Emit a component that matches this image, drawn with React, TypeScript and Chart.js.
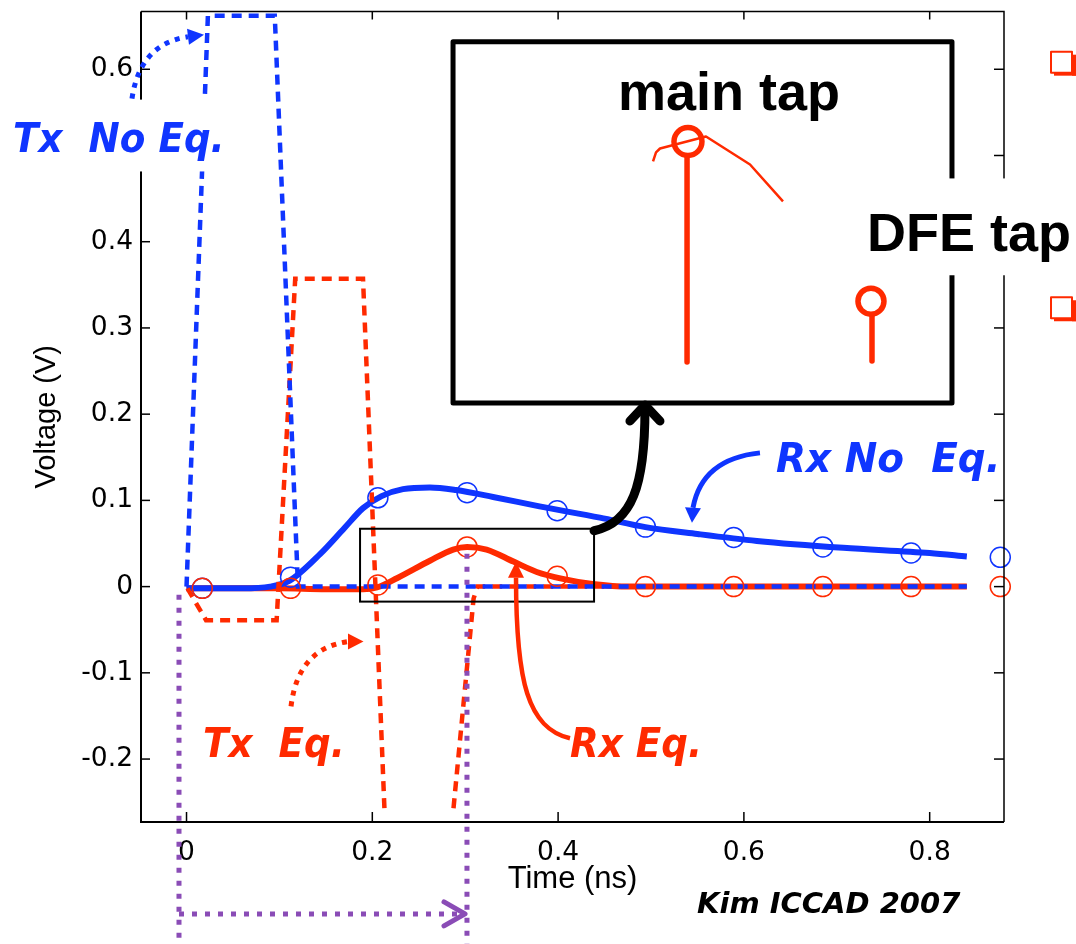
import React, { useEffect, useRef } from 'react';
import { Chart, registerables } from 'chart.js';

Chart.register(...registerables);

// ---------------- axis ----------------
const X_MIN = -0.049;
const X_MAX = 0.88;
const Y_MIN = -0.273;
const Y_MAX = 0.667;
const X_TICKS = [0, 0.2, 0.4, 0.6, 0.8];
const Y_TICKS = [-0.2, -0.1, 0, 0.1, 0.2, 0.3, 0.4, 0.5, 0.6];

// ---------------- series ----------------
// Tx without equalization (blue dashed pulse)
const TX_NOEQ_T = [0, 0.023, 0.095, 0.12, 0.84];
const TX_NOEQ_V = [0, 0.662, 0.662, 0, 0];

// Tx with equalization (red dashed, leaves the visible range between the two edges)
const TX_EQ_T = [0.001, 0.021, 0.097, 0.117, 0.19, 0.2133, 0.25, 0.2874, 0.309, 0.313, 0.84];
const TX_EQ_V = [-0.002, -0.039, -0.039, 0.357, 0.357, -0.264, null, -0.257, -0.014, 0, 0];

// Rx without equalization (blue solid)
const RX_NOEQ_T = [0, 0.06, 0.09, 0.111, 0.144, 0.17, 0.19, 0.21, 0.233, 0.262, 0.29, 0.33, 0.38, 0.445, 0.494, 0.55, 0.614, 0.707, 0.8, 0.84];
const RX_NOEQ_V = [-0.002, -0.002, 0.0, 0.007, 0.038, 0.068, 0.091, 0.105, 0.113, 0.115, 0.112, 0.104, 0.093, 0.08, 0.069, 0.061, 0.053, 0.045, 0.039, 0.035];

// Rx with equalization (red solid)
const RX_EQ_T = [0, 0.1, 0.15, 0.19, 0.205, 0.227, 0.262, 0.287, 0.302, 0.323, 0.352, 0.377, 0.405, 0.437, 0.477, 0.84];
const RX_EQ_V = [-0.002, -0.002, -0.003, -0.003, -0.001, 0.01, 0.03, 0.043, 0.046, 0.043, 0.029, 0.017, 0.009, 0.003, 0.0, 0.0];

// symbol-spaced samples (open circles)
const MARK_T = [0.017, 0.112, 0.206, 0.302, 0.399, 0.494, 0.589, 0.685, 0.78, 0.876];
const MARK_NOEQ = [-0.002, 0.011, 0.103, 0.109, 0.088, 0.069, 0.057, 0.046, 0.039, 0.034];
const MARK_EQ = [-0.002, -0.002, 0.002, 0.046, 0.012, 0, 0, 0, 0, 0];

// ---------------- annotations (data units) ----------------
const LABEL_TX_NOEQ = { text: 'Tx  No Eq.', x: -0.1867, y: 0.5046 };
const LABEL_RX_NOEQ = { text: 'Rx No  Eq.', x: 0.6346, y: 0.1331 };
const LABEL_TX_EQ = { text: 'Tx  Eq.', x: 0.0178, y: -0.1979 };
const LABEL_RX_EQ = { text: 'Rx Eq.', x: 0.4128, y: -0.1979 };
const LABEL_CITE = { text: 'Kim ICCAD 2007', x: 0.5495, y: -0.3785 };
const LABEL_MAIN = { text: 'main tap', x: 0.584, y: 0.5532 };
const LABEL_DFE = { text: 'DFE tap', x: 0.7325, y: 0.3889 };
const BG_TX_NOEQ = [-0.2008, 0.5648, 0.0468, 0.4815];
const BG_DFE = [0.7142, 0.4734, 0.9575, 0.3611];

const ARROW_TX_NOEQ = { s: [-0.0587, 0.566], c: [-0.0501, 0.6296], e: [0.0016, 0.6377], tip: [0.0188, 0.64] };
const ARROW_TX_EQ = { s: [0.1125, -0.1389], c: [0.12, -0.0718], e: [0.1738, -0.0637], tip: [0.1905, -0.0637] };
const ARROW_RX_NOEQ = { s: [0.6173, 0.1551], c: [0.5549, 0.1481], e: [0.5452, 0.0914], tip: [0.5441, 0.0741] };
const ARROW_RX_EQ = { s: [0.4128, -0.1759], c1: [0.3676, -0.1644], c2: [0.3547, -0.1111], e: [0.3547, 0.0104], tip: [0.3547, 0.0289] };
const ARROW_ZOOM = { s: [0.4387, 0.0648], c1: [0.4795, 0.0741], c2: [0.4935, 0.1169], tip: [0.4935, 0.2106] };

const ZOOM_BOX = [0.1868, 0.0671, 0.4387, -0.0174];
const INSET_BOX = [0.2869, 0.6319, 0.824, 0.213];
const INSET_MAIN = { cx: 0.5398, cy: 0.5162, x: 0.5388, top: 0.4988, bottom: 0.2604 };
const INSET_DFE = { cx: 0.7368, cy: 0.331, x: 0.7379, top: 0.3137, bottom: 0.2616 };
const INSET_CURVE = [[0.5022, 0.4931], [0.5054, 0.5035], [0.5097, 0.5081], [0.5592, 0.522], [0.6066, 0.4896], [0.6421, 0.4468]];

const PURPLE_V1 = { x: -0.0081, top: -0.0093 };
const PURPLE_V2 = { x: 0.3019, top: 0.0382 };
const PURPLE_H = { y: -0.3796, x1: -0.0081, x2: 0.2922, tip: 0.2998 };
const BULLETS = [[0.9306, 0.6204], [0.9306, 0.3356]];

// ---------------- style ----------------
const BLUE = '#0f35ff';
const RED = '#ff2a00';
const PURPLE = '#8a4cb6';
const NOTE_FONT = "italic bold 41px 'DejaVu Sans'";

const pts = (t: number[], v: (number | null)[]) => t.map((x, i) => ({ x, y: v[i] }));

const annotationPlugin = {
  id: 'annotations',
  afterDraw(chart: any) {
    const ctx: CanvasRenderingContext2D = chart.ctx;
    const xs = chart.scales.x;
    const ys = chart.scales.y;
    const X = (v: number) => xs.getPixelForValue(v);
    const Y = (v: number) => ys.getPixelForValue(v);
    const P = (p: number[]) => [X(p[0]), Y(p[1])];
    const { left, right, top, bottom } = chart.chartArea;
    const H = chart.height;

    const line = (x1: number, y1: number, x2: number, y2: number) => {
      ctx.beginPath();
      ctx.moveTo(x1, y1);
      ctx.lineTo(x2, y2);
      ctx.stroke();
    };
    const head = (fx: number, fy: number, tx: number, ty: number, hw: number, color: string) => {
      const a = Math.atan2(ty - fy, tx - fx);
      const nx = -Math.sin(a), ny = Math.cos(a);
      ctx.beginPath();
      ctx.moveTo(tx, ty);
      ctx.lineTo(fx + nx * hw, fy + ny * hw);
      ctx.lineTo(fx - nx * hw, fy - ny * hw);
      ctx.closePath();
      ctx.fillStyle = color;
      ctx.fill();
    };
    const text = (s: string, x: number, y: number, font: string, color: string, align: CanvasTextAlign = 'left', sx = 1) => {
      ctx.save();
      ctx.translate(x, y);
      ctx.scale(sx, 1);
      ctx.font = font;
      ctx.fillStyle = color;
      ctx.textAlign = align;
      ctx.textBaseline = 'alphabetic';
      ctx.fillText(s, 0, 0);
      ctx.restore();
    };

    ctx.save();
    // frame
    ctx.strokeStyle = '#000';
    ctx.lineCap = 'butt';
    ctx.lineWidth = 2;
    ctx.beginPath();
    ctx.moveTo(left, top);
    ctx.lineTo(left, bottom);
    ctx.lineTo(right, bottom);
    ctx.stroke();
    ctx.lineWidth = 1.5;
    ctx.beginPath();
    ctx.moveTo(left, top);
    ctx.lineTo(right, top);
    ctx.lineTo(right, bottom);
    ctx.stroke();
    // inward ticks
    for (const v of X_TICKS) {
      const x = X(v);
      line(x, bottom, x, bottom - 10);
      line(x, top, x, top + 8);
    }
    for (const v of Y_TICKS) {
      const y = Y(v);
      line(left, y, left + 9, y);
      line(right, y, right - 10, y);
    }

    // zoom box on the Rx Eq. peak
    ctx.lineWidth = 2;
    ctx.strokeRect(X(ZOOM_BOX[0]), Y(ZOOM_BOX[1]), X(ZOOM_BOX[2]) - X(ZOOM_BOX[0]), Y(ZOOM_BOX[3]) - Y(ZOOM_BOX[1]));

    // purple dotted markers
    ctx.strokeStyle = PURPLE;
    ctx.lineWidth = 5;
    ctx.setLineDash([5, 8]);
    line(X(PURPLE_V1.x), Y(PURPLE_V1.top), X(PURPLE_V1.x), H);
    line(X(PURPLE_V2.x), Y(PURPLE_V2.top), X(PURPLE_V2.x), H);
    line(X(PURPLE_H.x1), Y(PURPLE_H.y), X(PURPLE_H.x2), Y(PURPLE_H.y));
    ctx.setLineDash([]);
    ctx.lineCap = 'round';
    ctx.lineJoin = 'round';
    {
      const tx = X(PURPLE_H.tip), ty = Y(PURPLE_H.y);
      ctx.beginPath();
      ctx.moveTo(tx - 21, ty - 12);
      ctx.lineTo(tx, ty);
      ctx.lineTo(tx - 21, ty + 12);
      ctx.stroke();
    }

    // dotted arrow to Tx No Eq. pulse
    ctx.lineCap = 'butt';
    ctx.strokeStyle = BLUE;
    ctx.lineWidth = 5;
    ctx.setLineDash([5, 6]);
    {
      const [sx, sy] = P(ARROW_TX_NOEQ.s), [cx, cy] = P(ARROW_TX_NOEQ.c), [ex, ey] = P(ARROW_TX_NOEQ.e), [tx, ty] = P(ARROW_TX_NOEQ.tip);
      ctx.beginPath();
      ctx.moveTo(sx, sy);
      ctx.quadraticCurveTo(cx, cy, ex, ey);
      ctx.stroke();
      ctx.setLineDash([]);
      head(ex, ey, tx, ty, 8, BLUE);
    }
    // dotted arrow to Tx Eq. pulse
    ctx.strokeStyle = RED;
    ctx.setLineDash([5, 6]);
    {
      const [sx, sy] = P(ARROW_TX_EQ.s), [cx, cy] = P(ARROW_TX_EQ.c), [ex, ey] = P(ARROW_TX_EQ.e), [tx, ty] = P(ARROW_TX_EQ.tip);
      ctx.beginPath();
      ctx.moveTo(sx, sy);
      ctx.quadraticCurveTo(cx, cy, ex, ey);
      ctx.stroke();
      ctx.setLineDash([]);
      head(ex, ey, tx, ty, 8, RED);
    }
    // solid arrow to Rx No Eq.
    ctx.strokeStyle = BLUE;
    ctx.lineWidth = 5;
    ctx.lineCap = 'butt';
    {
      const [sx, sy] = P(ARROW_RX_NOEQ.s), [cx, cy] = P(ARROW_RX_NOEQ.c), [ex, ey] = P(ARROW_RX_NOEQ.e), [tx, ty] = P(ARROW_RX_NOEQ.tip);
      ctx.beginPath();
      ctx.moveTo(sx, sy);
      ctx.quadraticCurveTo(cx, cy, ex, ey);
      ctx.stroke();
      head(ex, ey, tx, ty, 8, BLUE);
    }
    // solid arrow to Rx Eq.
    ctx.strokeStyle = RED;
    ctx.lineWidth = 4.5;
    {
      const [sx, sy] = P(ARROW_RX_EQ.s), [ax, ay] = P(ARROW_RX_EQ.c1), [bx, by] = P(ARROW_RX_EQ.c2), [ex, ey] = P(ARROW_RX_EQ.e), [tx, ty] = P(ARROW_RX_EQ.tip);
      ctx.beginPath();
      ctx.moveTo(sx, sy);
      ctx.bezierCurveTo(ax, ay, bx, by, ex, ey);
      ctx.stroke();
      head(ex, ey, tx, ty, 8, RED);
    }

    // inset
    ctx.strokeStyle = '#000';
    ctx.lineWidth = 5;
    ctx.lineJoin = 'round';
    ctx.strokeRect(X(INSET_BOX[0]), Y(INSET_BOX[1]), X(INSET_BOX[2]) - X(INSET_BOX[0]), Y(INSET_BOX[3]) - Y(INSET_BOX[1]));
    // big black arrow to inset
    ctx.lineWidth = 9;
    ctx.lineCap = 'round';
    {
      const [sx, sy] = P(ARROW_ZOOM.s), [ax, ay] = P(ARROW_ZOOM.c1), [bx, by] = P(ARROW_ZOOM.c2), [tx, ty] = P(ARROW_ZOOM.tip);
      ctx.beginPath();
      ctx.moveTo(sx, sy);
      ctx.bezierCurveTo(ax, ay, bx, by, tx, ty + 4);
      ctx.stroke();
      ctx.beginPath();
      ctx.moveTo(tx - 15, ty + 16);
      ctx.lineTo(tx, ty);
      ctx.lineTo(tx + 15, ty + 16);
      ctx.stroke();
    }
    // inset content
    ctx.strokeStyle = RED;
    ctx.lineWidth = 2.5;
    ctx.lineCap = 'butt';
    ctx.beginPath();
    INSET_CURVE.forEach((p, i) => {
      const [x, y] = P(p);
      if (i === 0) ctx.moveTo(x, y);
      else ctx.lineTo(x, y);
    });
    ctx.stroke();
    ctx.lineWidth = 5.5;
    ctx.lineCap = 'round';
    line(X(INSET_MAIN.x), Y(INSET_MAIN.top), X(INSET_MAIN.x), Y(INSET_MAIN.bottom));
    line(X(INSET_DFE.x), Y(INSET_DFE.top), X(INSET_DFE.x), Y(INSET_DFE.bottom));
    ctx.beginPath();
    ctx.arc(X(INSET_MAIN.cx), Y(INSET_MAIN.cy), 14, 0, Math.PI * 2);
    ctx.stroke();
    ctx.beginPath();
    ctx.arc(X(INSET_DFE.cx), Y(INSET_DFE.cy), 13, 0, Math.PI * 2);
    ctx.stroke();

    // white backgrounds for labels
    ctx.fillStyle = '#fff';
    ctx.fillRect(X(BG_TX_NOEQ[0]), Y(BG_TX_NOEQ[1]), X(BG_TX_NOEQ[2]) - X(BG_TX_NOEQ[0]), Y(BG_TX_NOEQ[3]) - Y(BG_TX_NOEQ[1]));
    ctx.fillRect(X(BG_DFE[0]), Y(BG_DFE[1]), X(BG_DFE[2]) - X(BG_DFE[0]), Y(BG_DFE[3]) - Y(BG_DFE[1]));

    // bullets at the right edge
    ctx.lineCap = 'butt';
    for (const b of BULLETS) {
      const [x, y] = P(b);
      ctx.fillStyle = RED;
      ctx.fillRect(x + 3, y + 20, 24, 4);
      ctx.fillRect(x + 21, y + 3, 4, 21);
      ctx.strokeStyle = RED;
      ctx.lineWidth = 2;
      ctx.fillStyle = '#fff';
      ctx.fillRect(x, y, 21, 21);
      ctx.strokeRect(x, y, 21, 21);
    }

    // labels
    text(LABEL_TX_NOEQ.text, X(LABEL_TX_NOEQ.x), Y(LABEL_TX_NOEQ.y), NOTE_FONT, BLUE, 'left', 0.91);
    text(LABEL_RX_NOEQ.text, X(LABEL_RX_NOEQ.x), Y(LABEL_RX_NOEQ.y), NOTE_FONT, BLUE, 'left', 0.95);
    text(LABEL_TX_EQ.text, X(LABEL_TX_EQ.x), Y(LABEL_TX_EQ.y), NOTE_FONT, RED, 'left', 0.91);
    text(LABEL_RX_EQ.text, X(LABEL_RX_EQ.x), Y(LABEL_RX_EQ.y), NOTE_FONT, RED, 'left', 0.91);
    text(LABEL_CITE.text, X(LABEL_CITE.x), Y(LABEL_CITE.y), "italic bold 29px 'DejaVu Sans'", '#000', 'left', 1);
    text(LABEL_MAIN.text, X(LABEL_MAIN.x), Y(LABEL_MAIN.y), "bold 54px 'Liberation Sans'", '#000', 'center', 1);
    text(LABEL_DFE.text, X(LABEL_DFE.x), Y(LABEL_DFE.y), "bold 54px 'Liberation Sans'", '#000', 'left', 1);
    ctx.restore();
  },
};

const fmt = (v: number) => (Math.abs(v) < 1e-9 ? '0' : String(Math.round(v * 10) / 10));

export default function App() {
  const ref = useRef<HTMLCanvasElement | null>(null);
  useEffect(() => {
    if (!ref.current) return;
    const circle = (color: string) => ({
      showLine: false,
      pointStyle: 'circle',
      pointRadius: 10,
      pointBorderWidth: 1.5,
      pointBorderColor: color,
      pointBackgroundColor: 'rgba(0,0,0,0)',
      borderColor: color,
      clip: false,
    });
    const chart = new Chart(ref.current, {
      type: 'line',
      data: {
        datasets: [
          { label: 'Rx Eq. samples', data: pts(MARK_T, MARK_EQ), ...circle(RED) } as any,
          { label: 'Rx No Eq. samples', data: pts(MARK_T, MARK_NOEQ), ...circle(BLUE) } as any,
          {
            label: 'Tx No Eq.', data: pts(TX_NOEQ_T, TX_NOEQ_V), borderColor: BLUE, borderWidth: 4.5,
            borderDash: [10, 7], pointRadius: 0, tension: 0, borderJoinStyle: 'miter',
          },
          {
            label: 'Tx Eq.', data: pts(TX_EQ_T, TX_EQ_V), borderColor: RED, borderWidth: 4.5,
            borderDash: [10, 7], pointRadius: 0, tension: 0, spanGaps: false, borderJoinStyle: 'miter',
          },
          {
            label: 'Rx No Eq.', data: pts(RX_NOEQ_T, RX_NOEQ_V), borderColor: BLUE, borderWidth: 6,
            pointRadius: 0, cubicInterpolationMode: 'monotone',
          },
          {
            label: 'Rx Eq.', data: pts(RX_EQ_T, RX_EQ_V), borderColor: RED, borderWidth: 6,
            pointRadius: 0, cubicInterpolationMode: 'monotone',
          },
        ] as any,
      },
      options: {
        responsive: false,
        animation: false,
        devicePixelRatio: 1,
        events: [],
        layout: { padding: { left: 0, top: 10, right: 72, bottom: 0 } },
        plugins: { legend: { display: false }, tooltip: { enabled: false } },
        scales: {
          x: {
            type: 'linear',
            min: X_MIN,
            max: X_MAX,
            grid: { display: false, drawTicks: false },
            border: { display: false },
            afterBuildTicks: (s: any) => { s.ticks = X_TICKS.map((value) => ({ value })); },
            afterFit: (s: any) => { s.height = 122; s.paddingLeft = 0; s.paddingRight = 0; },
            ticks: {
              padding: 15, color: '#000', autoSkip: false, maxRotation: 0,
              font: { family: 'DejaVu Sans', size: 26.5 },
              callback: (v: any) => fmt(Number(v)),
            },
            title: {
              display: true, text: 'Time (ns)', color: '#000',
              font: { family: 'Liberation Sans', size: 31 },
              padding: { top: 0, bottom: 46 },
            },
          },
          y: {
            type: 'linear',
            min: Y_MIN,
            max: Y_MAX,
            grid: { display: false, drawTicks: false },
            border: { display: false },
            afterBuildTicks: (s: any) => { s.ticks = Y_TICKS.map((value) => ({ value })); },
            afterFit: (s: any) => { s.width = 141; s.paddingTop = 0; s.paddingBottom = 0; },
            ticks: {
              padding: 8, color: '#000', autoSkip: false,
              font: { family: 'DejaVu Sans', size: 26.5 },
              callback: (v: any) => fmt(Number(v)),
            },
            title: {
              display: true, text: 'Voltage (V)', color: '#000',
              font: { family: 'Liberation Sans', size: 29 },
              padding: { top: 30, bottom: 0 },
            },
          },
        },
      } as any,
      plugins: [annotationPlugin],
    });
    return () => chart.destroy();
  }, []);
  return (
    <div style={{ position: 'absolute', left: 0, top: 0, width: 1076, height: 944, background: '#fff' }}>
      <canvas ref={ref} width={1076} height={944} style={{ display: 'block' }} />
    </div>
  );
}
